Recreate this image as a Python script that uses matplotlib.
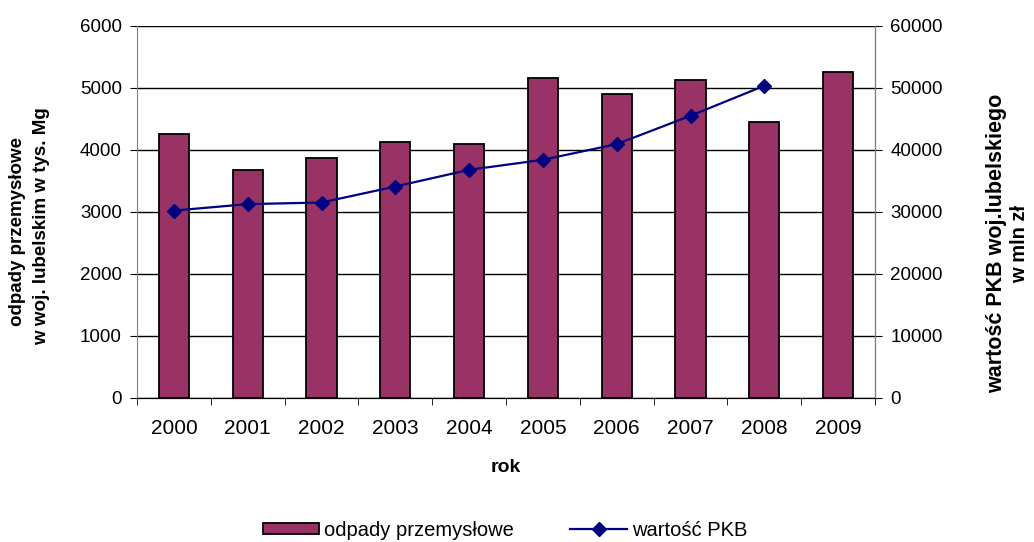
import numpy as np
import matplotlib.pyplot as plt
from matplotlib.lines import Line2D
from matplotlib.patches import Patch

plt.rcParams["font.family"] = ["Liberation Sans", "DejaVu Sans"]

years = ["2000", "2001", "2002", "2003", "2004", "2005", "2006", "2007", "2008", "2009"]
waste = [4260, 3680, 3870, 4130, 4095, 5160, 4905, 5130, 4455, 5255]
pkb = [30230, 31270, 31530, 34110, 36800, 38420, 40950, 45520, 50360]

BAR = "#993366"
LINE = "#000080"
W, H = 1034, 542

fig = plt.figure(figsize=(10.34, 5.42), dpi=100)
ax = fig.add_axes([137 / W, 1 - 398 / H, 738 / W, 372 / H])
x = np.arange(len(years))

ax.set_axisbelow(True)
ax.yaxis.grid(True, color="black", linewidth=1)
ax.bar(x, waste, width=0.41, color=BAR, edgecolor="black", linewidth=1.3, zorder=2)
ax.set_ylim(0, 6000)
ax.set_yticks(range(0, 6001, 1000))
ax.set_xlim(-0.5, len(years) - 0.5)
ax.set_xticks(x)
ax.set_xticklabels(years)
ax.tick_params(axis="x", length=0, labelsize=15, pad=15)
ax.set_xticks(np.arange(-0.5, len(years)), minor=True)
ax.tick_params(axis="x", which="minor", length=5, direction="out", color="black")
ax.tick_params(axis="y", labelsize=13.5, length=5, direction="out", pad=6)
ax.spines["top"].set_visible(False)
ax.spines["left"].set_color("#808080")
ax.spines["bottom"].set_color("black")

ax2 = ax.twinx()
ax2.plot(x[:len(pkb)], pkb, color=LINE, linewidth=1.6, marker="D", markersize=7, zorder=3)
ax2.set_ylim(0, 60000)
ax2.set_yticks(range(0, 60001, 10000))
ax2.tick_params(axis="y", labelsize=13.5, length=5, direction="out", pad=6)
ax2.spines["top"].set_visible(False)
ax2.spines["left"].set_visible(False)
ax2.spines["right"].set_color("#808080")

# axis titles placed as separate lines, like the Excel original
lab = dict(fontweight="bold", rotation=90, ha="center", va="center")
fig.text(18 / W, 1 - 232 / H, "odpady przemysłowe", fontsize=13.5, **lab)
fig.text(42 / W, 1 - 226 / H, "w woj. lubelskim w tys. Mg", fontsize=13.5, **lab)
fig.text(997 / W, 1 - 243 / H, "wartość PKB woj.lubelskiego", fontsize=15.5, **lab)
fig.text(1020 / W, 1 - 244 / H, "w mln zł", fontsize=14.5, **lab)
fig.text(0.5 * (137 + 875) / W, 1 - 468 / H, "rok", fontsize=14,
         fontweight="bold", ha="center", va="center")

handles = [Patch(facecolor=BAR, edgecolor="black", linewidth=1.3),
           Line2D([], [], color=LINE, linewidth=1.6, marker="D", markersize=7)]
fig.legend(handles, ["odpady przemysłowe", "wartość PKB"], loc="center",
           bbox_to_anchor=(505 / W, 1 - 530 / H), ncol=2, frameon=False, fontsize=14.5,
           handlelength=2.8, handleheight=0.45, handletextpad=0.25, columnspacing=2.8,
           borderpad=0.2)

fig.savefig("out.png", dpi=100)
